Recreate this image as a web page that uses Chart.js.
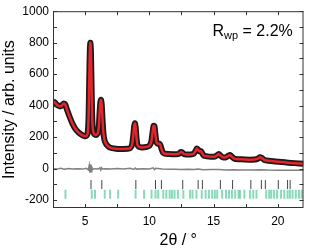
<!DOCTYPE html>
<html>
<head>
<meta charset="UTF-8">
<title>XRD refinement</title>
<style>
    html, body { margin: 0; padding: 0; background: #fff; }
    #wrap { width: 310px; height: 251px; }
</style>
</head>
<body>
<div id="wrap"><canvas id="xrd" width="310" height="251"></canvas></div>
<script src="https://cdn.jsdelivr.net/npm/chart.js"></script>
<script>
// observed / calculated pattern (2θ, intensity)
const twoTheta = [2.50, 2.65, 2.80, 2.95, 3.05, 3.15, 3.25, 3.35, 3.45, 3.60, 3.80, 4.00, 4.20, 4.40, 4.60, 4.80,
    5.00, 5.10, 5.20, 5.27, 5.32, 5.37, 5.41, 5.45, 5.50, 5.55, 5.61, 5.70, 5.80, 5.90, 6.00, 6.07, 6.13, 6.19,
    6.24, 6.29, 6.35, 6.42, 6.50, 6.60, 6.75, 6.90, 7.10, 7.40, 7.70, 8.00, 8.30, 8.50, 8.65, 8.75, 8.82, 8.88,
    8.94, 9.00, 9.08, 9.20, 9.40, 9.60, 9.80, 10.00, 10.15, 10.25, 10.33, 10.40, 10.47, 10.55, 10.65, 10.75,
    10.85, 10.95, 11.05, 11.20, 11.50, 11.80, 12.10, 12.30, 12.45, 12.55, 12.70, 12.90, 13.20, 13.45, 13.60,
    13.70, 13.80, 13.90, 14.00, 14.10, 14.25, 14.50, 14.80, 15.10, 15.25, 15.40, 15.55, 15.75, 15.95, 16.15,
    16.30, 16.45, 16.65, 17.00, 17.40, 17.80, 18.20, 18.45, 18.60, 18.75, 18.95, 19.30, 19.80, 20.30, 20.80,
    21.30, 22.00];
const yObs = [428, 420, 406, 398, 395, 398, 408, 414, 408, 372, 328, 288, 258, 237, 222, 212,
    206, 208, 225, 330, 560, 760, 800, 750, 540, 330, 245, 220, 214, 216, 228, 270, 360, 425,
    437, 410, 320, 230, 185, 162, 145, 135, 130, 127, 125, 125, 126, 130, 150, 210, 270, 288,
    260, 195, 150, 138, 135, 136, 138, 145, 170, 230, 272, 270, 220, 170, 158, 160,
    152, 125, 103, 95, 93, 92, 92, 95, 106, 104, 93, 90, 90, 95, 112,
    128, 120, 110, 112, 100, 82, 78, 76, 76, 84, 93, 82, 71, 72, 82,
    86, 74, 62, 60, 58, 57, 58, 63, 72, 68, 55, 50, 46, 42, 38,
    35, 31];
const yCalc = yObs;

// difference curve
const diffX = [2.5, 2.8, 3.1, 3.4, 3.7, 4.0, 4.4, 4.8, 5.1, 5.25, 5.32, 5.37, 5.42, 5.47, 5.52, 5.6, 5.8, 6.05,
    6.15, 6.22, 6.28, 6.35, 6.6, 7.0, 7.5, 8.0, 8.5, 8.8, 8.9, 9.0, 9.5, 10.0, 10.3, 10.4, 10.5, 11.0, 11.5, 12.0,
    12.5, 13.0, 13.5, 13.8, 14.2, 14.8, 15.4, 16.0, 16.5, 17.0, 17.5, 18.0, 18.6, 19.2, 20.0, 20.8, 21.5, 22.0];
const diffY = [0, -3, 2, -4, 1, -2, 0, -3, 2, -8, 20, -25, 28, -20, 10, -4, 0, -2,
    6, -8, 5, -2, 0, -3, 1, -2, 2, -5, 4, -3, 0, -2, 5, -6, 2, -3, -4, -4,
    -5, -4, -6, -3, -7, -6, -6, -8, -7, -8, -8, -9, -7, -9, -10, -10, -11, -11];

// Bragg positions
const braggPhase1 = [5.46, 6.30, 8.95, 10.48, 10.94, 12.6, 13.8, 14.13, 15.53, 16.48, 17.9, 18.72, 19.03,
    20.04, 20.76, 20.96];
const braggPhase2 = [3.47, 5.52, 5.77, 6.53, 6.94, 7.57, 8.93, 9.59, 10.17, 10.48, 10.69, 11.08, 11.32, 11.58,
    11.76, 11.96, 12.22, 12.65, 13.16, 13.36, 13.67, 14.08, 14.38, 14.64, 14.89, 15.10, 15.28, 15.66, 15.97,
    16.20, 16.43, 16.68, 16.94, 17.06, 17.40, 17.83, 18.09, 18.34, 19.10, 19.33, 19.49, 19.71, 19.94, 20.25,
    20.50, 20.76, 20.94, 21.15, 21.40, 21.65, 21.86];
const phase1Level = -101;
const phase2Level = -162;

const xTicks = [5, 10, 15, 20];
const yTicks = [-200, 0, 200, 400, 600, 800, 1000];

const FONT = "'Liberation Sans', Arial, sans-serif";
Chart.defaults.font.family = FONT;
Chart.defaults.color = '#000';

// 枠・内向き目盛り・Rwp
const framePlugin = {
    id: 'frame',
    afterDraw(chart) {
        const { ctx, chartArea: a, scales: { x, y } } = chart;
        ctx.save();
        ctx.strokeStyle = '#333';
        ctx.lineWidth = 1;
        ctx.strokeRect(a.left + 0.5, a.top + 0.5, a.right - a.left - 1, a.bottom - a.top - 1);
        ctx.beginPath();
        for (let v = 2.5; v <= 22; v += 2.5) {
            const px = Math.round(x.getPixelForValue(v)) + 0.5;
            ctx.moveTo(px, a.bottom); ctx.lineTo(px, a.bottom - 4);
            ctx.moveTo(px, a.top); ctx.lineTo(px, a.top + 4);
        }
        for (let v = -200; v <= 1000; v += 100) {
            const py = Math.round(y.getPixelForValue(v)) + 0.5;
            ctx.moveTo(a.left, py); ctx.lineTo(a.left + 4, py);
            ctx.moveTo(a.right, py); ctx.lineTo(a.right - 4, py);
        }
        ctx.stroke();

        // R_wp label
        ctx.fillStyle = '#000';
        ctx.textBaseline = 'alphabetic';
        let tx = a.right - 91;
        const ty = a.top + 25;
        ctx.font = '16px ' + FONT;
        ctx.fillText('R', tx, ty);
        tx += ctx.measureText('R').width;
        ctx.font = '11px ' + FONT;
        ctx.fillText('wp', tx, ty + 3);
        tx += ctx.measureText('wp').width;
        ctx.font = '16px ' + FONT;
        ctx.fillText(' = 2.2%', tx, ty);
        ctx.restore();
    }
};

const toPts = (xs, ys) => xs.map((v, i) => ({ x: v, y: ys[i] }));

new Chart(document.getElementById('xrd'), {
    type: 'scatter',
    data: {
        datasets: [
            {
                label: 'calc',
                data: toPts(twoTheta, yCalc),
                showLine: true,
                borderColor: '#e8232b',
                borderWidth: 2.5,
                pointRadius: 0,
                tension: 0.2,
                order: 1
            },
            {
                label: 'obs',
                data: toPts(twoTheta, yObs),
                showLine: true,
                borderColor: '#1a1a1a',
                borderWidth: 6,
                pointRadius: 0,
                tension: 0.2,
                order: 2
            },
            {
                label: 'diff',
                data: toPts(diffX, diffY),
                showLine: true,
                borderColor: '#808080',
                borderWidth: 1.5,
                pointRadius: 0,
                order: 3
            },
            {
                label: 'phase1',
                data: braggPhase1.map(v => ({ x: v, y: phase1Level })),
                pointStyle: 'line',
                rotation: 90,
                pointRadius: 4.5,
                borderColor: '#444',
                borderWidth: 1,
                order: 4
            },
            {
                label: 'phase2',
                data: braggPhase2.map(v => ({ x: v, y: phase2Level })),
                pointStyle: 'line',
                rotation: 90,
                pointRadius: 4.5,
                borderColor: 'rgba(40, 190, 125, 0.55)',
                borderWidth: 2,
                order: 5
            }
        ]
    },
    options: {
        responsive: false,
        animation: false,
        layout: { padding: { top: 7, right: 2, left: 0, bottom: 0 } },
        plugins: {
            legend: { display: false },
            tooltip: { enabled: false }
        },
        scales: {
            x: {
                type: 'linear',
                min: 2.5,
                max: 22,
                grid: { display: false, drawTicks: false },
                border: { display: false },
                afterBuildTicks: s => { s.ticks = xTicks.map(v => ({ value: v })); },
                afterFit: s => { s.height = 43; },
                ticks: { font: { size: 12 }, padding: 6, maxRotation: 0, callback: v => String(v) },
                title: { display: true, text: '2θ / °', font: { size: 16 }, padding: { top: 0, bottom: 1 } }
            },
            y: {
                type: 'linear',
                min: -250,
                max: 1000,
                grid: { display: false, drawTicks: false },
                border: { display: false },
                afterBuildTicks: s => { s.ticks = yTicks.map(v => ({ value: v })); },
                afterFit: s => { s.width = 53; },
                ticks: { font: { size: 12 }, padding: 4, callback: v => String(v) },
                title: { display: true, text: 'Intensity / arb. units', font: { size: 16 }, padding: { top: 0, bottom: 0 } }
            }
        }
    },
    plugins: [framePlugin]
});
</script>
</body>
</html>
